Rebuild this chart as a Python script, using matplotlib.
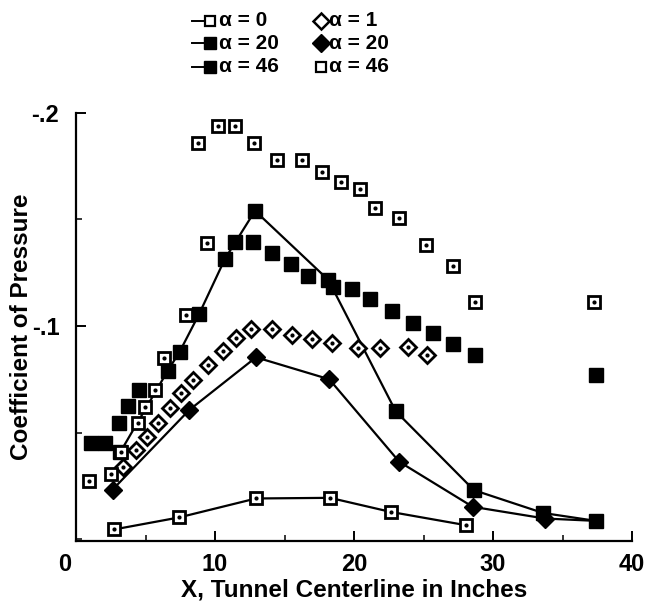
import matplotlib
matplotlib.use("Agg")
import matplotlib.pyplot as plt
from matplotlib.lines import Line2D
import matplotlib.transforms as mtransforms
from matplotlib.ticker import MultipleLocator

plt.rcParams['font.family'] = ['Liberation Sans', 'DejaVu Sans']
plt.rcParams['font.weight'] = 'bold'

# ---- data ----
a0_x = [2.76, 7.41, 12.95, 18.27, 22.64, 28.03]
a0_y = [-0.0046, -0.0102, -0.0191, -0.0194, -0.0128, -0.0066]

a20sq_x = [3.2, 6.6, 7.45, 8.85, 10.72, 12.88, 18.15, 23.0, 28.63, 33.6, 37.4]
a20sq_y = [-0.041, -0.079, -0.0878, -0.1055, -0.1315, -0.154, -0.1216, -0.060, -0.023, -0.0123, -0.0086]

a46f_x = [1.08, 2.11, 3.07, 3.72, 4.56, 11.44, 12.76, 14.08, 15.5, 16.7, 18.5, 19.83,
          21.15, 22.71, 24.22, 25.7, 27.15, 28.7, 37.4]
a46f_y = [-0.0449, -0.0449, -0.0543, -0.0624, -0.070, -0.1396, -0.1396, -0.134, -0.129,
          -0.1235, -0.1185, -0.1172, -0.1125, -0.107, -0.1015, -0.0969, -0.0915, -0.0864, -0.077]

a1_x = [3.36, 4.32, 5.11, 5.88, 6.78, 7.54, 8.42, 9.47, 10.55, 11.51, 12.57, 14.08,
        15.52, 16.96, 18.4, 20.3, 21.87, 23.9, 25.23]
a1_y = [-0.034, -0.0418, -0.048, -0.0546, -0.0614, -0.0684, -0.0746, -0.0817, -0.0884,
        -0.0942, -0.0985, -0.0985, -0.0958, -0.0937, -0.0922, -0.0895, -0.0895, -0.090, -0.0864]

a20d_x = [2.64, 8.15, 12.95, 18.22, 23.26, 28.54, 33.74, 37.4]
a20d_y = [-0.0233, -0.0606, -0.0853, -0.075, -0.0363, -0.0152, -0.0097, -0.0086]

a46o_x = [0.96, 2.52, 3.24, 4.43, 4.96, 5.7, 6.34, 7.9, 8.8, 9.4, 10.24, 11.44, 12.8,
          14.44, 16.24, 17.68, 19.1, 20.43, 21.5, 23.26, 25.18, 27.1, 28.7, 37.27]
a46o_y = [-0.0274, -0.0308, -0.041, -0.0543, -0.062, -0.0702, -0.085, -0.105, -0.186,
          -0.1388, -0.1936, -0.1936, -0.1858, -0.178, -0.178, -0.172, -0.1673, -0.1642,
          -0.1553, -0.1508, -0.138, -0.1282, -0.111, -0.1114]

x_ticks = [0, 10, 20, 30, 40]
y_ticks = [-0.2, -0.1]
y_ticklabels = ['-.2', '-.1']
legend_labels = ['α = 0', 'α = 20', 'α = 46', 'α = 1', 'α = 20', 'α = 46']

# ---- figure ----
fig = plt.figure(figsize=(6.5, 6.08), dpi=100)
ax = fig.add_axes([76/650, 1-540.7/608, (632-76)/650, (540.7-112.7)/608])
ax.set_xlim(0, 40)
ax.set_ylim(0.0007, -0.2)

lw = 1.6
# connected / filled series (last diamond is hidden under the square in the reference)
ax.plot(a20d_x, a20d_y, '-', color='black', lw=lw, marker='D', ms=8.7,
        mfc='black', mec='black', zorder=2.8, markevery=list(range(len(a20d_x) - 1)))
ax.plot(a20sq_x, a20sq_y, '-', color='black', lw=lw, marker='s', ms=9.5,
        mfc='black', mec='black', zorder=3)
ax.plot(a46f_x, a46f_y, ls='none', marker='s', ms=9.5, mfc='black', mec='black', zorder=3)
# open series
ax.plot(a0_x, a0_y, '-', color='black', lw=lw, marker='s', ms=8.4,
        mfc='white', mec='black', mew=2.0, zorder=4)
ax.plot(a1_x, a1_y, ls='none', marker='D', ms=8.0, mfc='white', mec='black', mew=2.0, zorder=4)
ax.plot(a46o_x, a46o_y, ls='none', marker='s', ms=8.4, mfc='white', mec='black', mew=2.0, zorder=5)
# center dots of open markers
for xs, ys, z in [(a0_x, a0_y, 4.5), (a1_x, a1_y, 4.5), (a46o_x, a46o_y, 5.5)]:
    ax.plot(xs, ys, ls='none', marker='o', ms=2.0, color='black', zorder=z)

# axes styling
for s in ['top', 'right']:
    ax.spines[s].set_visible(False)
for s in ['left', 'bottom']:
    ax.spines[s].set_linewidth(1.6)
ax.set_xticks(x_ticks)
ax.set_xticklabels([str(t) for t in x_ticks])
ax.set_yticks(y_ticks)
ax.set_yticklabels(y_ticklabels)
ax.xaxis.set_minor_locator(MultipleLocator(5))
ax.yaxis.set_minor_locator(MultipleLocator(0.05))
ax.tick_params(which='major', direction='in', length=7, width=1.4, labelsize=17, pad=9)
ax.tick_params(which='minor', direction='in', length=4, width=1.1)
ax.tick_params(axis='y', which='major', pad=12)
for lab in ax.get_xticklabels() + ax.get_yticklabels():
    lab.set_fontweight('bold')
# shift the "0" label left, as in the reference
off = mtransforms.ScaledTranslation(-11/100, 0, fig.dpi_scale_trans)
lbl0 = ax.get_xticklabels()[0]
lbl0.set_transform(lbl0.get_transform() + off)

ax.set_xlabel('X, Tunnel Centerline in Inches', fontsize=17.5, fontweight='bold', labelpad=2)
ax.set_ylabel('Coefficient of Pressure', fontsize=17.5, fontweight='bold', labelpad=-1)

# ---- legend (manual, top centre) ----
def fx(px):
    return px / 650
def fy(py):
    return 1 - py / 608

rows = [20.7, 43.3, 66.7]
left_specs = [('s', 'white', 7.4, 1.6), ('s', 'black', 8.7, 1.0), ('s', 'black', 8.7, 1.0)]
right_specs = [('D', 'white', 8.0, 1.8), ('D', 'black', 8.8, 1.0), ('s', 'white', 7.4, 1.6)]
for i, r in enumerate(rows):
    m, fc, ms, mew = left_specs[i]
    fig.add_artist(Line2D([fx(192), fx(206)], [fy(r), fy(r)], color='black', lw=1.4,
                          transform=fig.transFigure))
    fig.add_artist(Line2D([fx(210)], [fy(r)], marker=m, ms=ms, mfc=fc, mec='black', mew=mew,
                          ls='none', transform=fig.transFigure))
    fig.text(fx(219), fy(r), legend_labels[i], fontsize=15, fontweight='bold',
             ha='left', va='center')
    m, fc, ms, mew = right_specs[i]
    fig.add_artist(Line2D([fx(321)], [fy(r)], marker=m, ms=ms, mfc=fc, mec='black', mew=mew,
                          ls='none', transform=fig.transFigure))
    fig.text(fx(329), fy(r), legend_labels[3 + i], fontsize=15, fontweight='bold',
             ha='left', va='center')

fig.savefig('out.png', dpi=100)
